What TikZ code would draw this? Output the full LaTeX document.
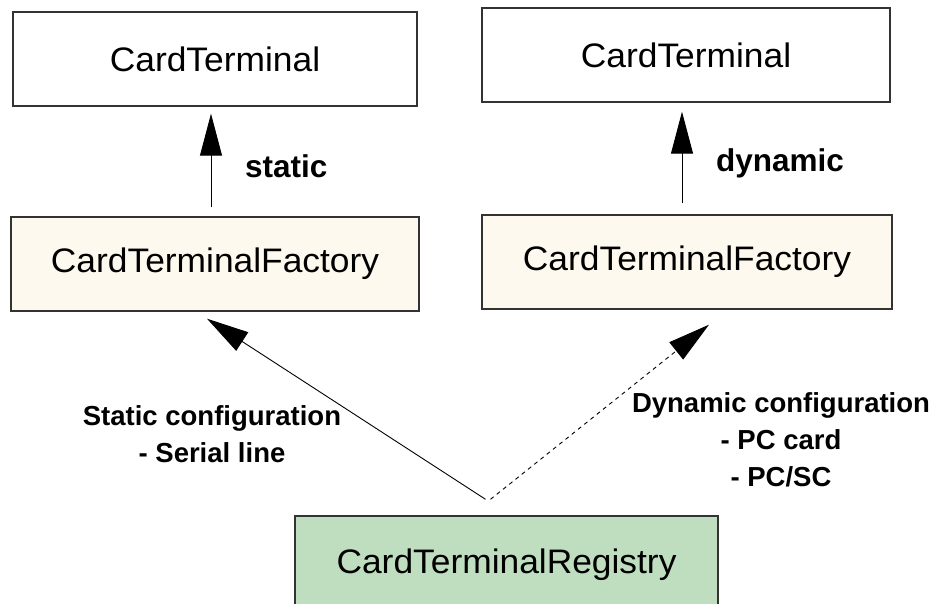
\documentclass[tikz,border=0pt]{standalone}
\usepackage{fontspec}
\setmainfont{Liberation Sans}
\usetikzlibrary{arrows.meta}
\definecolor{boxline}{HTML}{333333}
\definecolor{factoryfill}{HTML}{FEF9EE}
\definecolor{registryfill}{HTML}{BFDDBF}
% class names are set slightly wide
\newcommand{\classname}[1]{\scalebox{1.04}[1]{#1}}
\tikzset{
  classbox/.style={draw=boxline, line width=1.4pt, inner sep=0pt, font=\fontsize{34}{38}\selectfont},
  edgelabel/.style={font=\bfseries\fontsize{31.5}{34}\selectfont, inner sep=0pt},
  cfglabel/.style={font=\bfseries\fontsize{27.5}{37}\selectfont, align=center, inner sep=0pt},
  link/.style={line width=0.9pt, -{Triangle[length=42pt,width=22pt]}},
}
\begin{document}
\begin{tikzpicture}[x=1pt,y=-1pt]
\useasboundingbox (0,0) rectangle (944,604);
\fill[white] (0,0) rectangle (944,604);

% class boxes
\node[classbox, minimum width=404pt, minimum height=94pt] (ct1) at (215,59) {\classname{CardTerminal}};
\node[classbox, minimum width=408pt, minimum height=94pt] (ct2) at (686,55) {\classname{CardTerminal}};
\node[classbox, fill=factoryfill, minimum width=408pt, minimum height=94pt] (f1) at (215,264) {\classname{CardTerminalFactory}};
\node[classbox, fill=factoryfill, minimum width=410pt, minimum height=94pt] (f2) at (687,262) {\classname{CardTerminalFactory}};
\node[classbox, fill=registryfill, minimum width=423pt, minimum height=96pt, text depth=0pt] (reg) at (506.5,564) {\raisebox{5pt}{\classname{CardTerminalRegistry}}};

% vertical links
\draw[link] ([xshift=-4pt,yshift=9pt]f1.north) -- ([xshift=-4pt,yshift=-7pt]ct1.south);
\draw[link] ([xshift=-5pt,yshift=11pt]f2.north) -- ([xshift=-4pt,yshift=-9pt]ct2.south);

% configuration links
\draw[link] ([xshift=-21pt,yshift=16pt]reg.north) -- ([xshift=-8pt,yshift=-7pt]f1.south);
\draw[link, dash pattern=on 4pt off 4pt] ([xshift=-16pt,yshift=16pt]reg.north) -- ([xshift=22pt,yshift=-15pt]f2.south);

% labels
\node[edgelabel, anchor=west] (lstatic) at (245,166) {static};
\node[edgelabel, anchor=west] (ldynamic) at (716,163) {dynamic};
\node[cfglabel] (lcfg1) at (212,434) {Static configuration\\- Serial line};
\node[cfglabel] (lcfg2) at (781,440) {Dynamic configuration\\- PC card\\- PC/SC};
\end{tikzpicture}
\end{document}
